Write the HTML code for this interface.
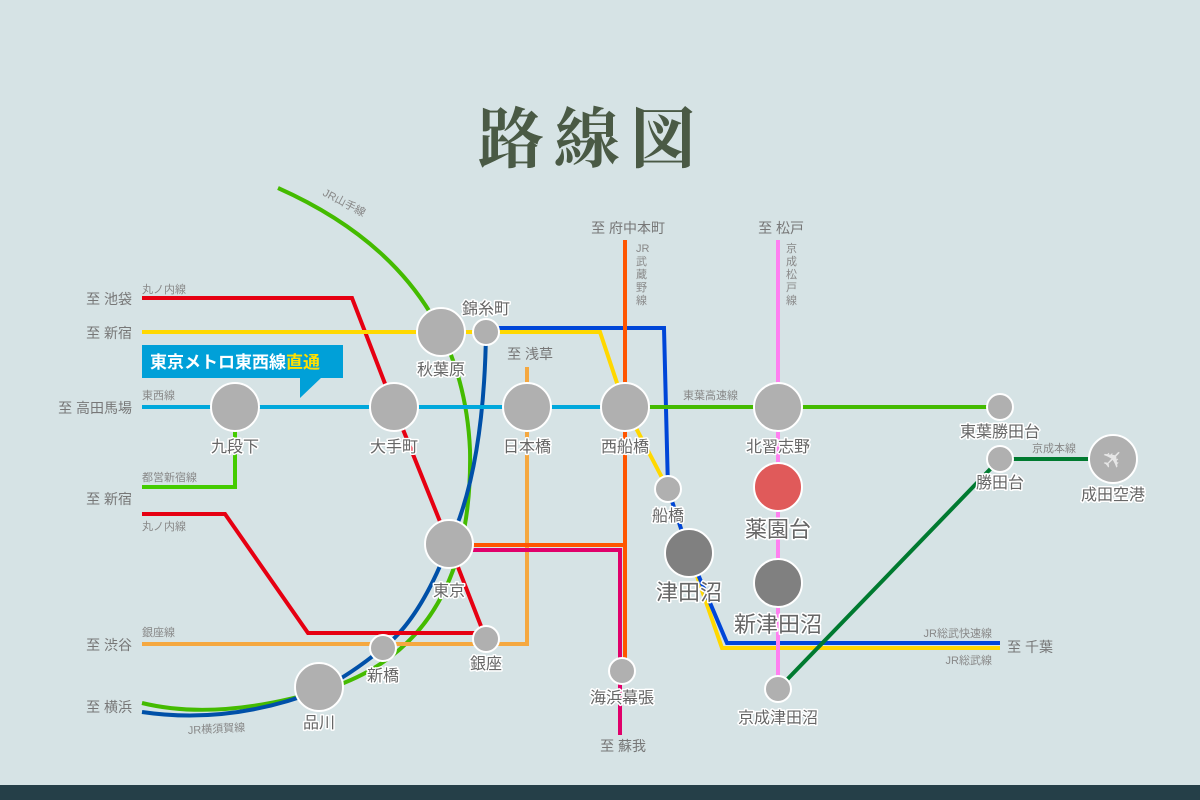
<!DOCTYPE html>
<html><head><meta charset="utf-8"><style>
html,body{margin:0;padding:0;background:#d6e3e5;}
svg{display:block}
text{font-family:"Liberation Sans","Noto Sans CJK JP",sans-serif;}
.st{fill:#666;font-size:16px;text-anchor:middle;stroke:#fff;stroke-width:3px;paint-order:stroke;stroke-linejoin:round}
.big{fill:#666;font-size:22px;text-anchor:middle;stroke:#fff;stroke-width:3px;paint-order:stroke;stroke-linejoin:round}
.to{fill:#777;font-size:14px;text-anchor:end}
.ln{fill:#888;font-size:11px}
.c{fill:#b0b0b0;stroke:#fff;stroke-width:2}
path,polyline,line{fill:none}
</style></head><body>
<svg width="1200" height="800" viewBox="0 0 1200 800">
<rect width="1200" height="800" fill="#d6e3e5"/>
<rect y="785" width="1200" height="15" fill="#253f48"/>
<text x="592" y="162" text-anchor="middle" font-size="66" font-weight="bold" fill="#4a5a45" style="font-family:'Noto Serif CJK SC','Liberation Serif',serif;letter-spacing:10px">路線図</text>

<path d="M278,188 Q462,270 470,450 Q474,640 330,688 Q220,722 142,703" stroke="#44bb00" stroke-width="4"/>
<path d="M486,332 Q484,470 449,544 Q420,620 383,648 Q350,675 320,690 Q230,725 142,712" stroke="#0050a8" stroke-width="4"/>
<polyline points="142,298 352,298 394,407 449,544 486,639" stroke="#e60012" stroke-width="4"/>
<polyline points="142,514 225,514 308,633 486,633" stroke="#e60012" stroke-width="4"/>
<polyline points="142,644 527,644 527,367" stroke="#f5a840" stroke-width="4"/>
<polyline points="142,487 235,487 235,407" stroke="#44cc00" stroke-width="4"/>
<polyline points="142,332 600,332 625,407 668,489 689,553 722,648 1000,648" stroke="#ffd800" stroke-width="4"/>
<polyline points="486,328 664,328 668,489 689,553 727,643 1000,643" stroke="#0046d8" stroke-width="4"/>
<polyline points="449,545 625,545" stroke="#ff5500" stroke-width="4"/>
<line x1="625" y1="240" x2="625" y2="665" stroke="#ff5500" stroke-width="4"/>
<polyline points="460,550 620,550 620,735" stroke="#e0006a" stroke-width="4"/>
<line x1="142" y1="407" x2="625" y2="407" stroke="#00a8dc" stroke-width="4"/>
<line x1="625" y1="407" x2="1000" y2="407" stroke="#44bb00" stroke-width="4"/>
<line x1="778" y1="240" x2="778" y2="689" stroke="#ff80f0" stroke-width="4"/>
<polyline points="778,689 1000,459 1113,459" stroke="#007a30" stroke-width="4"/>

<rect x="142" y="345" width="201" height="33" fill="#00a0d8"/>
<polygon points="300,377 322,377 300,398" fill="#00a0d8"/>
<text x="150" y="368" font-size="17" fill="#fff" font-weight="bold">東京メトロ東西線<tspan fill="#ffe000">直通</tspan></text>

<circle class="c" cx="441" cy="332" r="24"/>
<circle class="c" cx="486" cy="332" r="13"/>
<circle class="c" cx="235" cy="407" r="24"/>
<circle class="c" cx="394" cy="407" r="24"/>
<circle class="c" cx="527" cy="407" r="24"/>
<circle class="c" cx="625" cy="407" r="24"/>
<circle class="c" cx="778" cy="407" r="24"/>
<circle class="c" cx="1000" cy="407" r="13"/>
<circle class="c" cx="1000" cy="459" r="13"/>
<circle class="c" cx="1113" cy="459" r="24"/>
<text x="1113" y="468" text-anchor="middle" font-size="26" fill="#e6e6e6" transform="rotate(-45 1113 459)" style="font-family:'DejaVu Sans',sans-serif">✈</text>
<circle class="c" cx="668" cy="489" r="13"/>
<circle class="c" cx="778" cy="487" r="24" style="fill:#e05a5a"/>
<circle class="c" cx="689" cy="553" r="24" style="fill:#808080"/>
<circle class="c" cx="778" cy="583" r="24" style="fill:#808080"/>
<circle class="c" cx="449" cy="544" r="24"/>
<circle class="c" cx="486" cy="639" r="13"/>
<circle class="c" cx="383" cy="648" r="13"/>
<circle class="c" cx="319" cy="687" r="24"/>
<circle class="c" cx="622" cy="671" r="13"/>
<circle class="c" cx="778" cy="689" r="13"/>

<text class="st" x="486" y="314">錦糸町</text>
<text class="st" x="441" y="375">秋葉原</text>
<text class="st" x="235" y="452">九段下</text>
<text class="st" x="394" y="452">大手町</text>
<text class="st" x="527" y="452">日本橋</text>
<text class="st" x="625" y="452">西船橋</text>
<text class="st" x="778" y="452">北習志野</text>
<text class="st" x="1000" y="437">東葉勝田台</text>
<text class="st" x="1000" y="488">勝田台</text>
<text class="st" x="1113" y="500">成田空港</text>
<text class="st" x="668" y="521">船橋</text>
<text class="big" x="778" y="537">薬園台</text>
<text class="big" x="689" y="600">津田沼</text>
<text class="big" x="778" y="632">新津田沼</text>
<text class="st" x="449" y="596">東京</text>
<text class="st" x="486" y="669">銀座</text>
<text class="st" x="383" y="681">新橋</text>
<text class="st" x="319" y="728">品川</text>
<text class="st" x="622" y="703">海浜幕張</text>
<text class="st" x="778" y="723">京成津田沼</text>

<text class="to" x="132" y="304">至 池袋</text>
<text class="to" x="132" y="338">至 新宿</text>
<text class="to" x="132" y="413">至 高田馬場</text>
<text class="to" x="132" y="504">至 新宿</text>
<text class="to" x="132" y="650">至 渋谷</text>
<text class="to" x="132" y="712">至 横浜</text>
<text class="to" x="553" y="359">至 浅草</text>
<text class="to" x="665" y="233">至 府中本町</text>
<text class="to" x="804" y="233">至 松戸</text>
<text class="to" x="1053" y="652">至 千葉</text>
<text class="to" x="646" y="751">至 蘇我</text>

<text class="ln" x="142" y="293">丸ノ内線</text>
<text class="ln" x="142" y="399">東西線</text>
<text class="ln" x="142" y="481">都営新宿線</text>
<text class="ln" x="142" y="530">丸ノ内線</text>
<text class="ln" x="142" y="636">銀座線</text>
<text class="ln" x="188" y="734" transform="rotate(-3 188 734)">JR横須賀線</text>
<text class="ln" x="322" y="195" transform="rotate(28 322 195)">JR山手線</text>
<text class="ln" x="683" y="399">東葉高速線</text>
<text class="ln" x="1032" y="452">京成本線</text>
<text class="ln" x="992" y="637" text-anchor="end">JR総武快速線</text>
<text class="ln" x="992" y="664" text-anchor="end">JR総武線</text>
<text class="ln" x="636" y="252">JR</text>
<text class="ln" x="636" y="265">武</text>
<text class="ln" x="636" y="278">蔵</text>
<text class="ln" x="636" y="291">野</text>
<text class="ln" x="636" y="304">線</text>
<text class="ln" x="786" y="252">京</text>
<text class="ln" x="786" y="265">成</text>
<text class="ln" x="786" y="278">松</text>
<text class="ln" x="786" y="291">戸</text>
<text class="ln" x="786" y="304">線</text>
</svg>
</body></html>
